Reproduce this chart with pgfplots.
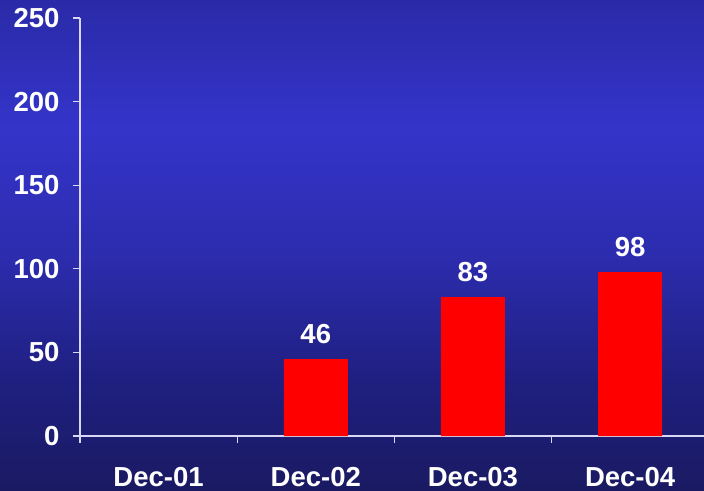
\documentclass[border=0pt]{standalone}
\usepackage{fontspec}
\setmainfont{Liberation Sans}
\usepackage{pgfplots}
\pgfplotsset{compat=1.18}
\definecolor{bgbot}{HTML}{1A1A62}
\definecolor{bglow}{HTML}{1F1F80}
\definecolor{bgmid}{HTML}{2C2CAE}
\definecolor{bgbright}{HTML}{3434CA}
\definecolor{bgtop}{HTML}{2A2AA8}
\definecolor{axline}{HTML}{D8D8F4}
\pgfdeclareverticalshading{bgshade}{100bp}{color(0bp)=(bgbot); color(25bp)=(bgbot); color(36bp)=(bglow); color(49bp)=(bgmid); color(62bp)=(bgbright); color(75bp)=(bgtop); color(100bp)=(bgtop)}
\newcommand{\bigfont}{\bfseries\fontsize{27.5bp}{32bp}\selectfont}
\begin{document}
\begin{tikzpicture}
\shade[shading=bgshade] (0,0) rectangle (704bp,491bp);
\useasboundingbox (0,0) rectangle (704bp,491bp);
\begin{axis}[
  at={(80bp,55bp)}, anchor=south west,
  scale only axis, width=624bp, height=418bp,
  xmin=-0.5, xmax=3.47, ymin=0, ymax=250,
  axis x line*=bottom, axis y line*=left,
  axis line style={-, axline, line width=1.2bp},
  tick style={axline, line width=1.2bp},
  tick align=outside, major tick length=7bp,
  ytick={0,50,100,150,200,250},
  xtick={-0.5,0.5,1.5,2.5}, xticklabels={},
  extra x ticks={0,1,2,3},
  extra x tick labels={Dec-01,Dec-02,Dec-03,Dec-04},
  extra x tick style={major tick length=0pt},
  /pgf/number format/assume math mode=true,
  tick label style={font=\bigfont, text=white},
  yticklabel style={xshift=-10bp},
  xticklabel style={yshift=-28bp},
  ybar, bar width=64bp,
  nodes near coords,
  every node near coord/.append style={font=\bigfont, text=white, yshift=12bp},
  clip=false,
]
\addplot[fill=red, draw=none] coordinates {(1,46) (2,83) (3,98)};
\end{axis}
\end{tikzpicture}
\end{document}
